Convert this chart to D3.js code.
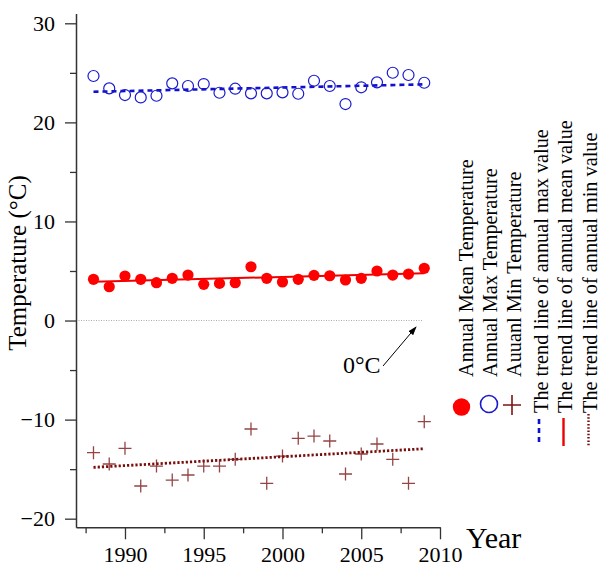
<!DOCTYPE html>
<html><head><meta charset="utf-8">
<script src="https://cdn.jsdelivr.net/npm/d3@7"></script>
<style>
body{margin:0;background:#fff}
svg{display:block}
text{font-family:"Liberation Serif","Times New Roman",Times,serif;fill:#000}
</style>
</head><body>
<svg id="chart" width="602" height="566"></svg>
<script>
const years = [1988,1989,1990,1991,1992,1993,1994,1995,1996,1997,1998,1999,2000,2001,2002,2003,2004,2005,2006,2007,2008,2009];
const meanTemp = [4.16,3.41,4.49,4.16,3.82,4.26,4.59,3.65,3.75,3.82,5.43,4.26,3.89,4.16,4.56,4.52,4.09,4.26,5.00,4.59,4.69,5.27];
const maxTemp = [24.68,23.43,22.76,22.52,22.69,23.94,23.67,23.87,22.99,23.40,22.93,22.93,23.03,22.89,24.20,23.67,21.85,23.54,24.04,25.01,24.78,24.00];
const minTemp = [-13.34,-14.48,-12.90,-16.70,-14.69,-16.10,-15.59,-14.69,-14.69,-14.01,-10.95,-16.43,-13.68,-11.89,-11.66,-12.16,-15.49,-13.47,-12.46,-14.01,-16.43,-10.21];
const trendYears = [1988, 2009];
const trendMax = [23.09, 23.84];
const trendMean = [3.92, 4.76];
const trendMin = [-14.82, -12.94];
const yMajorTicks = [-20,-10,0,10,20,30];
const yMinorTicks = [-15,-5,5,15,25];
const xMajorTicks = [1990,1995,2000,2005,2010];
const xMinorTicks = [1987.5,1992.5,1997.5,2002.5,2007.5];
const seriesLabels = ["Annual Mean Temperature","Annual Max Temperature","Auuanl Min Temperature"];
const trendLabels = ["The trend line of annual max value","The trend line of annual mean value","The trend line of annual min value"];
const zeroLabel = "0°C";

const svg = d3.select("#chart");
const x = d3.scaleLinear().domain([1986.89, 2010]).range([76, 440]);
const y = d3.scaleLinear().domain([-20.87, 31]).range([527.3, 13.4]);

const axisColor = "#333";
const mainColor = {mean:"#ff0000", max:"#1a1acc", min:"#7a1515"};

// zero reference line
svg.append("line")
  .attr("x1", x(1986.89)).attr("x2", x(2008.9))
  .attr("y1", y(0)).attr("y2", y(0))
  .attr("stroke", "#aaa").attr("stroke-width", 1).attr("stroke-dasharray", "1,1.5");

// Y axis
const gy = svg.append("g").attr("transform", `translate(${x(1986.89)},0)`);
gy.call(d3.axisLeft(y).tickValues(yMajorTicks).tickFormat(d3.format("d")).tickSize(11).tickSizeOuter(0).tickPadding(10));
const gy2 = svg.append("g").attr("transform", `translate(${x(1986.89)},0)`);
gy2.call(d3.axisLeft(y).tickValues(yMinorTicks).tickFormat("").tickSize(6).tickSizeOuter(0));
gy2.select(".domain").remove();

// X axis
const gx = svg.append("g").attr("transform", `translate(0,${y(-20.87)})`);
gx.call(d3.axisBottom(x).tickValues(xMajorTicks).tickFormat(d3.format("d")).tickSize(12).tickSizeOuter(0).tickPadding(7));
const gx2 = svg.append("g").attr("transform", `translate(0,${y(-20.87)})`);
gx2.call(d3.axisBottom(x).tickValues(xMinorTicks).tickFormat("").tickSize(6).tickSizeOuter(0));
gx2.select(".domain").remove();

[gy, gy2, gx, gx2].forEach(g => {
  g.selectAll(".domain").attr("stroke", axisColor).attr("stroke-width", 1.5);
  g.selectAll(".tick line").attr("stroke", axisColor).attr("stroke-width", 1.3);
  g.selectAll(".tick text").attr("font-family", '"Liberation Serif","Times New Roman",serif')
    .attr("font-size", 22).attr("fill", "#111");
});

// axis titles
svg.append("text")
  .attr("transform", "translate(26,263) rotate(-90)")
  .attr("text-anchor", "middle")
  .attr("font-size", 25)
  .text("Temperature (°C)");
svg.append("text")
  .attr("x", 466).attr("y", 548)
  .attr("font-size", 30)
  .text("Year");

// trend lines
const tline = d3.line().x((d,i) => x(trendYears[i])).y(d => y(d));
svg.append("path").datum(trendMax).attr("d", tline)
  .attr("fill","none").attr("stroke","#1010d0").attr("stroke-width",2.6).attr("stroke-dasharray","5,4");
svg.append("path").datum(trendMean).attr("d", tline)
  .attr("fill","none").attr("stroke","#ee0000").attr("stroke-width",2);
svg.append("path").datum(trendMin).attr("d", tline)
  .attr("fill","none").attr("stroke","#7a0c0c").attr("stroke-width",2.8).attr("stroke-dasharray","2.2,2");

// max circles
svg.append("g").selectAll("circle").data(maxTemp).join("circle")
  .attr("cx", (d,i) => x(years[i])).attr("cy", d => y(d)).attr("r", 5.5)
  .attr("fill","none").attr("stroke", mainColor.max).attr("stroke-width",1.2);

// mean dots
svg.append("g").selectAll("circle").data(meanTemp).join("circle")
  .attr("cx", (d,i) => x(years[i])).attr("cy", d => y(d)).attr("r", 5.6)
  .attr("fill", mainColor.mean);

// min plus
svg.append("g").selectAll("path").data(minTemp).join("path")
  .attr("transform", (d,i) => `translate(${x(years[i])},${y(d)})`)
  .attr("d", "M-6.5,0H6.5M0,-6.5V6.5")
  .attr("stroke", mainColor.min).attr("stroke-width",1.3).attr("stroke-opacity",0.8).attr("fill","none");

// 0°C annotation
const defs = svg.append("defs");
defs.append("marker").attr("id","arr").attr("viewBox","0 0 10 10").attr("refX",9).attr("refY",5)
  .attr("markerWidth",9).attr("markerHeight",9).attr("orient","auto")
  .append("path").attr("d","M0,1.5L10,5L0,8.5Z").attr("fill","#000");
svg.append("line").attr("x1",383).attr("y1",366).attr("x2",416).attr("y2",327)
  .attr("stroke","#000").attr("stroke-width",1).attr("marker-end","url(#arr)");
svg.append("text").attr("x",343).attr("y",373).attr("font-size",24).text(zeroLabel);

// legend
const serBase = [473, 497, 521];
svg.append("g").selectAll("text").data(seriesLabels).join("text")
  .attr("transform", (d,i) => `translate(${serBase[i]},377) rotate(-90)`)
  .attr("font-size", 20.3).text(d => d);
const trBase = [548, 572, 597];
svg.append("g").selectAll("text").data(trendLabels).join("text")
  .attr("transform", (d,i) => `translate(${trBase[i]},413) rotate(-90)`)
  .attr("font-size", 20.3).text(d => d);

svg.append("circle").attr("cx",461.5).attr("cy",407).attr("r",8.7).attr("fill",mainColor.mean);
svg.append("circle").attr("cx",489).attr("cy",404).attr("r",8.5).attr("fill","none").attr("stroke",mainColor.max).attr("stroke-width",1.6);
svg.append("path").attr("transform","translate(512,405)").attr("d","M-9,0H9M0,-10V10")
  .attr("stroke",mainColor.min).attr("stroke-width",1.6).attr("fill","none");

svg.append("line").attr("x1",539).attr("x2",539).attr("y1",419).attr("y2",446)
  .attr("stroke","#1010d0").attr("stroke-width",2.6).attr("stroke-dasharray","5,4");
svg.append("line").attr("x1",563.5).attr("x2",563.5).attr("y1",418).attr("y2",446)
  .attr("stroke","#ee0000").attr("stroke-width",2.4);
svg.append("line").attr("x1",588.5).attr("x2",588.5).attr("y1",414).attr("y2",446)
  .attr("stroke","#7a0c0c").attr("stroke-width",2.4).attr("stroke-dasharray","1.5,1.8");
</script>
</body></html>
